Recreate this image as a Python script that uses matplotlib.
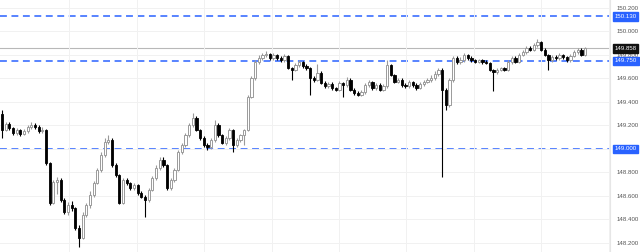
import matplotlib.pyplot as plt
import numpy as np

# price data (one candle per entry)
first_open = 149.298
closes = [
    149.162, 149.213, 149.179, 149.136, 149.162, 149.128, 149.153, 149.187, 149.204, 149.187,
    149.153, 149.162, 148.881, 148.540, 148.719, 148.736, 148.566, 148.464, 148.523, 148.498,
    148.328, 148.243, 148.438, 148.523, 148.609, 148.711, 148.821, 148.949, 149.060, 149.077,
    148.864, 148.779, 148.540, 148.736, 148.711, 148.668, 148.694, 148.626, 148.592, 148.566,
    148.651, 148.753, 148.838, 148.906, 148.864, 148.668, 148.736, 148.821, 148.974, 149.034,
    149.119, 149.204, 149.264, 149.162, 149.094, 149.034, 149.017, 149.077, 149.204, 149.119,
    149.051, 149.094, 149.162, 149.034, 149.077, 149.119, 149.162, 149.443, 149.604, 149.740,
    149.774, 149.800, 149.808, 149.774, 149.800, 149.774, 149.757, 149.791, 149.689, 149.672,
    149.715, 149.740, 149.706, 149.689, 149.604, 149.587, 149.647, 149.562, 149.536, 149.553,
    149.519, 149.502, 149.562, 149.545, 149.587, 149.502, 149.477, 149.460, 149.485, 149.545,
    149.570, 149.519, 149.545, 149.502, 149.536, 149.715, 149.630, 149.570, 149.587, 149.545,
    149.536, 149.570, 149.545, 149.519, 149.553, 149.570, 149.587, 149.604, 149.638, 149.672,
    149.502, 149.374, 149.587, 149.774, 149.740, 149.757, 149.800, 149.774, 149.757, 149.740,
    149.757, 149.740, 149.732, 149.672, 149.655, 149.672, 149.689, 149.672, 149.740, 149.774,
    149.740, 149.800, 149.825, 149.860, 149.843, 149.885, 149.911, 149.843, 149.800, 149.757,
    149.783, 149.774, 149.800, 149.783, 149.757, 149.791, 149.825, 149.843, 149.800, 149.858,
]
highs = [
    149.33, 149.23, 149.23, 149.19, 149.18, 149.17, 149.17, 149.20, 149.23, 149.22,
    149.20, 149.19, 149.17, 148.89, 148.74, 148.76, 148.75, 148.58, 148.55, 148.56,
    148.51, 148.35, 148.46, 148.54, 148.64, 148.73, 148.84, 148.97, 149.09, 149.12,
    149.09, 148.88, 148.79, 148.75, 148.75, 148.72, 148.71, 148.70, 148.64, 148.61,
    148.67, 148.77, 148.86, 148.93, 148.93, 148.87, 148.75, 148.84, 148.99, 149.05,
    149.14, 149.22, 149.31, 149.28, 149.17, 149.11, 149.05, 149.09, 149.25, 149.22,
    149.13, 149.11, 149.18, 149.17, 149.09, 149.13, 149.17, 149.46, 149.62, 149.76,
    149.80, 149.82, 149.83, 149.82, 149.82, 149.81, 149.79, 149.81, 149.80, 149.70,
    149.73, 149.76, 149.75, 149.72, 149.70, 149.62, 149.72, 149.66, 149.58, 149.57,
    149.57, 149.53, 149.58, 149.57, 149.61, 149.60, 149.52, 149.49, 149.50, 149.56,
    149.59, 149.58, 149.56, 149.56, 149.55, 149.76, 149.72, 149.64, 149.60, 149.60,
    149.56, 149.59, 149.58, 149.56, 149.57, 149.59, 149.60, 149.63, 149.66, 149.69,
    149.69, 149.52, 149.60, 149.79, 149.79, 149.78, 149.82, 149.81, 149.79, 149.77,
    149.77, 149.77, 149.76, 149.74, 149.68, 149.69, 149.70, 149.70, 149.76, 149.79,
    149.79, 149.82, 149.84, 149.88, 149.88, 149.90, 149.94, 149.92, 149.86, 149.81,
    149.80, 149.80, 149.82, 149.81, 149.79, 149.81, 149.84, 149.86, 149.86, 149.87,
]
lows = [
    149.09, 149.15, 149.16, 149.12, 149.12, 149.11, 149.12, 149.14, 149.17, 149.17,
    149.14, 149.14, 148.86, 148.52, 148.53, 148.62, 148.55, 148.45, 148.44, 148.47,
    148.31, 148.166, 148.23, 148.42, 148.50, 148.59, 148.70, 148.80, 148.93, 149.04,
    148.85, 148.76, 148.53, 148.53, 148.69, 148.65, 148.65, 148.61, 148.58, 148.42,
    148.55, 148.64, 148.74, 148.82, 148.85, 148.65, 148.65, 148.72, 148.81, 148.96,
    149.02, 149.10, 149.19, 149.15, 149.08, 149.02, 148.99, 149.00, 149.06, 149.10,
    149.04, 149.03, 149.08, 148.97, 149.02, 149.06, 149.03, 149.15, 149.43, 149.59,
    149.72, 149.76, 149.78, 149.76, 149.76, 149.76, 149.74, 149.74, 149.68, 149.59,
    149.66, 149.70, 149.69, 149.67, 149.46, 149.57, 149.58, 149.55, 149.52, 149.52,
    149.50, 149.49, 149.49, 149.44, 149.53, 149.49, 149.46, 149.45, 149.45, 149.47,
    149.53, 149.50, 149.50, 149.49, 149.49, 149.52, 149.62, 149.56, 149.56, 149.53,
    149.52, 149.52, 149.53, 149.50, 149.51, 149.54, 149.56, 149.57, 149.59, 149.62,
    148.76, 149.33, 149.36, 149.57, 149.72, 149.72, 149.74, 149.76, 149.74, 149.73,
    149.73, 149.72, 149.72, 149.66, 149.49, 149.64, 149.66, 149.66, 149.66, 149.72,
    149.73, 149.73, 149.79, 149.81, 149.83, 149.83, 149.87, 149.83, 149.79, 149.67,
    149.74, 149.76, 149.76, 149.77, 149.74, 149.74, 149.78, 149.81, 149.79, 149.79,
]
opens = [first_open] + closes[:-1]

levels = [150.130, 149.750, 149.000]
last_price = 149.858
price_ticks = [148.2, 148.4, 148.6, 148.8, 149.0, 149.2, 149.4, 149.6, 149.8, 150.0, 150.2]

blue = '#2962ff'
up_col = '#9a9a9a'
down_col = '#000000'
font = 'Liberation Sans'

fig = plt.figure(figsize=(6.4, 2.52), dpi=100)
ax = fig.add_axes([0, 0, 610 / 640, 1])

x = np.arange(len(closes))
o = np.array(opens)
c = np.array(closes)
up = c >= o
cols = np.where(up, up_col, down_col)

# wicks
ax.vlines(x, lows, highs, colors=cols, lw=0.8, zorder=2)
# bodies
bottom = np.minimum(o, c)
height = np.maximum(np.abs(c - o), 0.004)
ax.bar(x[up], height[up], bottom=bottom[up], width=0.62, color='white',
       edgecolor=up_col, linewidth=0.7, zorder=3)
ax.bar(x[~up], height[~up], bottom=bottom[~up], width=0.62, color=down_col,
       edgecolor=down_col, linewidth=0.6, zorder=3)

# horizontal levels
for lv in levels:
    ax.axhline(lv, color=blue, lw=1.1, ls=(0, (4.5, 3)), zorder=1.5)
ax.axhline(last_price, color='#b8b8b8', lw=0.8, zorder=1)

ax.set_xlim(-0.55, 165.8)
ax.set_ylim(148.123, 150.268)

# the 149.000 label sits under its tag, so leave it blank
tick_labels = ['' if abs(t - 149.0) < 1e-9 else '%.3f' % t for t in price_ticks]
ax.set_yticks(price_ticks)
ax.set_yticklabels(tick_labels, fontfamily=font)
ax.yaxis.tick_right()
ax.tick_params(axis='y', length=0, pad=5, labelsize=4.4, labelcolor='#555555')
ax.set_xticks(np.arange(18.3, 166, 18.4))
ax.tick_params(axis='x', length=0, labelbottom=False)
ax.grid(True, color='#f1f1f1', lw=0.7, zorder=0)

for s in ['top', 'left', 'bottom']:
    ax.spines[s].set_visible(False)
ax.spines['right'].set_color('#e6e6e6')
ax.spines['right'].set_linewidth(0.8)

# price tags on the scale
def tag(y, text, bg):
    ax.annotate(text, xy=(1, y), xycoords=('axes fraction', 'data'),
                xytext=(3.2, 0), textcoords='offset points', va='center', ha='left',
                fontsize=4.4, color='white', fontfamily=font,
                bbox=dict(boxstyle='square,pad=0.3', fc=bg, ec=bg),
                annotation_clip=False, zorder=5)

for lv in levels:
    tag(lv, '%.3f' % lv, blue)
tag(last_price, '%.3f' % last_price, '#111111')

fig.savefig('out.png', dpi=100)
